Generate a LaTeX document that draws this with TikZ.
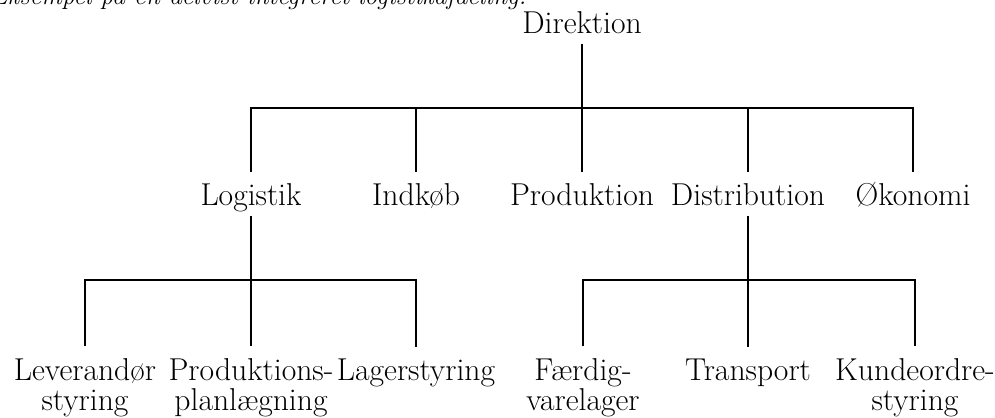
\documentclass[tikz,border=0pt]{standalone}
\usetikzlibrary{positioning}

\begin{document}
\begin{tikzpicture}[x=0.03cm,y=-0.03cm,line width=1pt,
  unit/.style={inner sep=0pt,anchor=base,align=center,
    text height=28pt,text depth=8.5pt,font=\fontsize{27}{25.6}\selectfont},
  twoline/.style={unit,text height=53.8pt}]
\useasboundingbox (0,0) rectangle (995,418);
\clip (0,0) rectangle (995,418);

% caption, cut off at the top
\node[anchor=base east,inner sep=0pt,font=\fontsize{22}{24}\selectfont\itshape] (cap) at (527,4)
  {Figur 2.3 Eksempel på en delvist integreret logistikafdeling.};

\node[unit] (dir) at (582,33) {Direktion};

\node[unit] (log) at (251,205) {Logistik};
\node[unit] (indk) at (416,205) {Indkøb};
\node[unit] (prod) at (582,205) {Produktion};
\node[unit] (dist) at (748,205) {Distribution};
\node[unit] (oek) at (913,205) {Økonomi};

% two-line nodes sit on the baseline of their last line
\node[twoline] (lev) at (85,410) {Leverandør\\styring};
\node[twoline] (plan) at (251,410) {Produktions-\\planlægning};
\node[unit] (lag) at (416,380) {Lagerstyring};
\node[twoline] (faerd) at (583,410) {Færdig-\\varelager};
\node[unit] (trans) at (748,380) {Transport};
\node[twoline] (kunde) at (915,410) {Kundeordre-\\styring};

\coordinate (top) at (582,108);
\coordinate (lbar) at (251,280);
\coordinate (dbar) at (748,280);

\draw (dir) -- (top);
\draw (log) |- (top) -| (oek);
\draw (indk) -- (indk |- top);
\draw (top) -- (prod);
\draw (dist) -- (dist |- top);

\draw (log) -- (lbar);
\draw (lev) |- (lbar) -| (lag);
\draw (lbar) -- (plan);

\draw (dist) -- (dbar);
\draw (faerd) |- (dbar) -| (kunde);
\draw (dbar) -- (trans);
\end{tikzpicture}
\end{document}
